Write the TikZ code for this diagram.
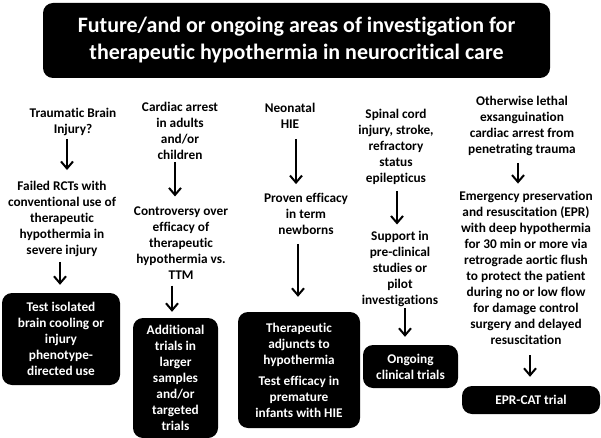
\documentclass[tikz,border=0pt]{standalone}
\usepackage{fontspec}
\setmainfont{Carlito}[Ligatures=NoCommon, Contextuals=NoAlternate]
\usetikzlibrary{arrows.meta}

\begin{document}
\begin{tikzpicture}[x=1pt, y=-1pt,
    every node/.style={font=\bfseries\fontsize{13.3}{16}\selectfont, align=center, inner sep=0pt},
    blackbox/.style={fill=black, text=white, rounded corners=10pt},
    arr/.style={-{Straight Barb[length=7pt,width=12pt]}, line width=2pt}]
    \useasboundingbox (0,0) rectangle (601,438);

    % Title
    \node[blackbox, minimum width=507pt, minimum height=75pt, font=\bfseries\fontsize{22}{27}\selectfont] (title) at (296.5,40.5) {Future/and or ongoing areas of investigation for\\therapeutic hypothermia in neurocritical care};

    % Conditions
    \node (tbi) at (73,122) {Traumatic Brain\\Injury?};
    \node (ca) at (180,131) {Cardiac arrest\\in adults\\and/or\\children};
    \node (hie) at (290,116) {Neonatal\\HIE};
    \node (sci) at (396,146.5) {Spinal cord\\injury, stroke,\\refractory\\status\\epilepticus};
    \node (trauma) at (522,126) {Otherwise lethal\\exsanguination\\cardiac arrest from\\penetrating trauma};

    % Current evidence
    \node (rct) at (62,219) {Failed RCTs with\\conventional use of\\therapeutic\\hypothermia in\\severe injury};
    \node (contro) at (181,243) {Controversy over\\efficacy of\\therapeutic\\hypothermia vs.\\TTM};
    \node (proven) at (306,214) {Proven efficacy\\in term\\newborns};
    \node (support) at (400,268.5) {Support in\\pre-clinical\\studies or\\pilot\\investigations};
    \node (epr) at (526,267.5) {Emergency preservation\\and resuscitation (EPR)\\with deep hypothermia\\for 30 min or more via\\retrograde aortic flush\\to protect the patient\\during no or low flow\\for damage control\\surgery and delayed\\resuscitation};

    % Future directions
    \node[blackbox, minimum width=118pt, minimum height=92pt] (tbibox) at (61,339) {Test isolated\\brain cooling or\\injury\\phenotype-\\directed use};
    \node[blackbox, minimum width=85pt, minimum height=120pt] (cabox) at (175.5,378) {Additional\\trials in\\larger\\samples\\and/or\\targeted\\trials};
    \node[blackbox, minimum width=122pt, minimum height=116pt] (hiebox) at (299,370) {Therapeutic\\adjuncts to\\hypothermia\\[5pt]Test efficacy in\\premature\\infants with HIE};
    \node[blackbox, minimum width=95pt, minimum height=43pt] (scibox) at (410.5,366.5) {Ongoing\\clinical trials};
    \node[blackbox, minimum width=138pt, minimum height=28pt] (eprbox) at (531,400) {EPR-CAT trial};

    % Arrows
    \draw[arr, shorten <=3pt, shorten >=11pt] ([xshift=-6pt]tbi.south) -- ([xshift=5pt]rct.north);
    \draw[arr, shorten <=5pt, shorten >=8pt] ([xshift=-2pt]rct.south) -- ([xshift=-1pt]tbibox.north);
    \draw[arr, shorten <=2pt, shorten >=10pt] ([xshift=-5pt]ca.south) -- ([xshift=-6pt]contro.north);
    \draw[arr, shorten <=6pt, shorten >=6pt] ([xshift=-9pt]contro.south) -- ([xshift=-3.5pt]cabox.north);
    \draw[arr, shorten <=10pt, shorten >=9pt] ([xshift=6pt]hie.south) -- ([xshift=-10pt]proven.north);
    \draw[arr, shorten <=9pt, shorten >=15pt] ([xshift=-8pt]proven.south) -- ([xshift=-1pt]hiebox.north);
    \draw[arr, shorten <=7pt, shorten >=6pt] ([xshift=1pt]sci.south) -- ([xshift=-3pt]support.north);
    \draw[arr, shorten <=2pt, shorten >=8pt] ([xshift=5pt]support.south) -- ([xshift=-5.5pt]scibox.north);
    \draw[arr, shorten <=7pt, shorten >=7pt] ([xshift=-4pt]trauma.south) -- ([xshift=-8pt]epr.north);
    \draw[arr, shorten <=11pt, shorten >=9pt] ([xshift=4pt]epr.south) -- ([xshift=-1pt]eprbox.north);
\end{tikzpicture}
\end{document}
